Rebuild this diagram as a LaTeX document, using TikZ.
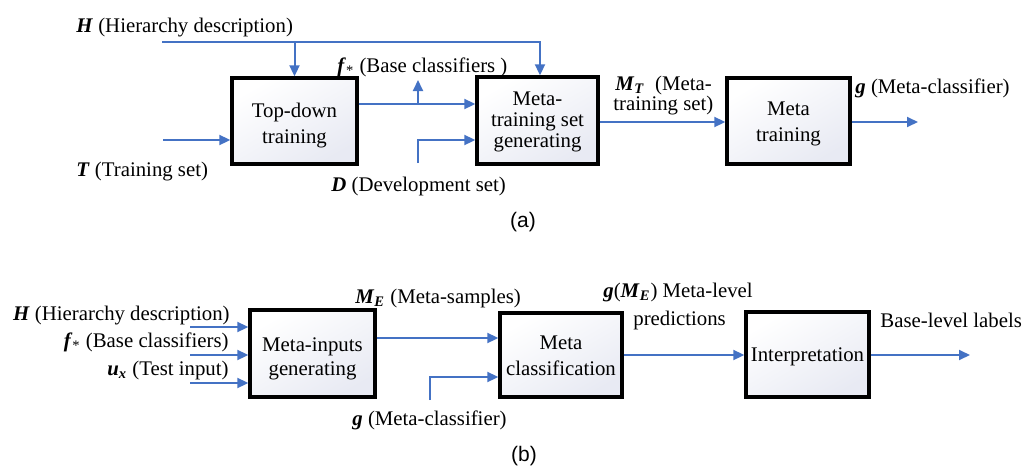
\documentclass[tikz,border=0pt]{standalone}
\usepackage{fontspec}
\setmainfont{Liberation Serif}
\newfontfamily\capfont{Liberation Sans}
\usetikzlibrary{arrows.meta,calc}
\definecolor{arrblue}{RGB}{68,114,196}
\definecolor{boxb}{RGB}{232,234,243}
\newcommand{\bi}[1]{\textbf{\textit{#1}}}
\begin{document}
\begin{tikzpicture}[x=0.5pt,y=-0.5pt,
  every node/.style={font=\fontsize{10.4}{13}\selectfont},
  procbox/.style={draw=black,line width=1.7pt,rectangle,inner sep=0pt,
    top color=white,bottom color=boxb,shading angle=30},
  boxtext/.style={align=center,inner sep=0pt},
  lbl/.style={inner sep=0pt,anchor=base west},
  lblr/.style={inner sep=0pt,anchor=base east},
  captxt/.style={font=\capfont\fontsize{10.5}{12}\selectfont,inner sep=0pt},
  arr/.style={draw=arrblue,line width=1pt,-{Triangle[length=5.5pt,width=5pt]}},
  ln/.style={draw=arrblue,line width=1pt}]
\useasboundingbox (0,0) rectangle (1025,472);

% ---------- (a) ----------
\node[procbox,minimum width=62.5pt,minimum height=43pt] (td) at (294.5,121) {};
\node[boxtext] (tdt) at (294.5,126) {Top-down\\training};
\node[procbox,minimum width=60.5pt,minimum height=43.5pt] (mtg) at (537.5,120.5) {};
\node[boxtext,font=\fontsize{10.4}{10.4}\selectfont] (mtgt) at (537.5,122) {Meta-\\training set\\generating};
\node[procbox,minimum width=61.5pt,minimum height=43pt] (mt) at (788.5,121) {};
\node[boxtext] (mtt) at (788.5,124) {Meta\\training};

\node[lbl] (lH) at (76,32) {\bi{H} (Hierarchy description)};
\node[lbl] (lf) at (337,72) {\bi{f}\textsubscript{*} (Base classifiers )};
\node[lbl] (lT) at (76,176) {\bi{T} (Training set)};
\node[lbl] (lD) at (331,191) {\bi{D} (Development set)};
\node[lbl] (lM1) at (615,90) {\bi{M}\textsubscript{\bi{T}}\ \ (Meta-};
\node[lbl] (lM2) at (613,110) {training set)};
\node[lbl] (lg) at (855,93) {\bi{g} (Meta-classifier)};
\node[captxt] (capa) at (523,222) {(a)};

\coordinate (Hs) at (162,42);
\coordinate (Hc) at (540,42);
\coordinate (Hb) at (294.5,42);
\coordinate (fy) at (0,104);
\coordinate (fb) at (418,104);
\coordinate (ft) at (418,80);
\coordinate (Ts) at (163,140);
\coordinate (Ds) at (418,163);
\coordinate (Dc) at (418,140);
\coordinate (my) at (0,122);
\coordinate (ge) at (918,122);

\draw[arr] (Hs) -- (Hc) -- (mtg.north -| Hc);
\draw[arr] (Hb) -- (td.north);
\draw[arr] (td.east |- fy) -- (mtg.west |- fy);
\draw[arr] (fb) -- (ft);
\draw[arr] (Ts) -- (td.west |- Ts);
\draw[arr] (Ds) -- (Dc) -- (mtg.west |- Dc);
\draw[arr] (mtg.east |- my) -- (mt.west |- my);
\draw[arr] (mt.east |- my) -- (ge);

% ---------- (b) ----------
\node[procbox,minimum width=62.5pt,minimum height=43.5pt] (mig) at (312.5,353.5) {};
\node[boxtext,font=\fontsize{10.4}{11.7}\selectfont] (migt) at (312.5,359) {Meta-inputs\\generating};
\node[procbox,minimum width=61pt,minimum height=42pt] (mc) at (561,355) {};
\node[boxtext] (mct) at (561,356) {Meta\\classification};
\node[procbox,minimum width=61.5pt,minimum height=42.5pt] (ip) at (807.5,354.5) {};
\node[boxtext] (ipt) at (807.5,357) {Interpretation};

\node[lblr] (bH) at (230,320) {\bi{H} (Hierarchy description)};
\node[lblr] (bf) at (229,347) {\bi{f}\textsubscript{*} (Base classifiers)};
\node[lblr] (bu) at (229,375) {\bi{u}\textsubscript{\bi{x}} (Test input)};
\node[lbl] (bM) at (355,303) {\bi{M}\textsubscript{\bi{E}} (Meta-samples)};
\node[lbl] (bg) at (352,425) {\bi{g} (Meta-classifier)};
\node[lbl] (bgm) at (603,297) {\bi{g}(\bi{M}\textsubscript{\bi{E}}) Meta-level};
\node[lbl] (bp) at (633,325) {predictions};
\node[lbl] (bb) at (880,327) {Base-level labels};
\node[captxt] (capb) at (524,456) {(b)};

\coordinate (i1) at (190,327);
\coordinate (i2) at (190,355);
\coordinate (i3) at (190,383);
\coordinate (ey) at (0,338);
\coordinate (gs) at (430,400);
\coordinate (gc) at (430,377);
\coordinate (py) at (0,355);
\coordinate (oe) at (970,355);

\draw[arr] (i1) -- (mig.west |- i1);
\draw[arr] (i2) -- (mig.west |- i2);
\draw[arr] (i3) -- (mig.west |- i3);
\draw[arr] (mig.east |- ey) -- (mc.west |- ey);
\draw[arr] (gs) -- (gc) -- (mc.west |- gc);
\draw[arr] (mc.east |- py) -- (ip.west |- py);
\draw[arr] (ip.east |- py) -- (oe);
\end{tikzpicture}
\end{document}
